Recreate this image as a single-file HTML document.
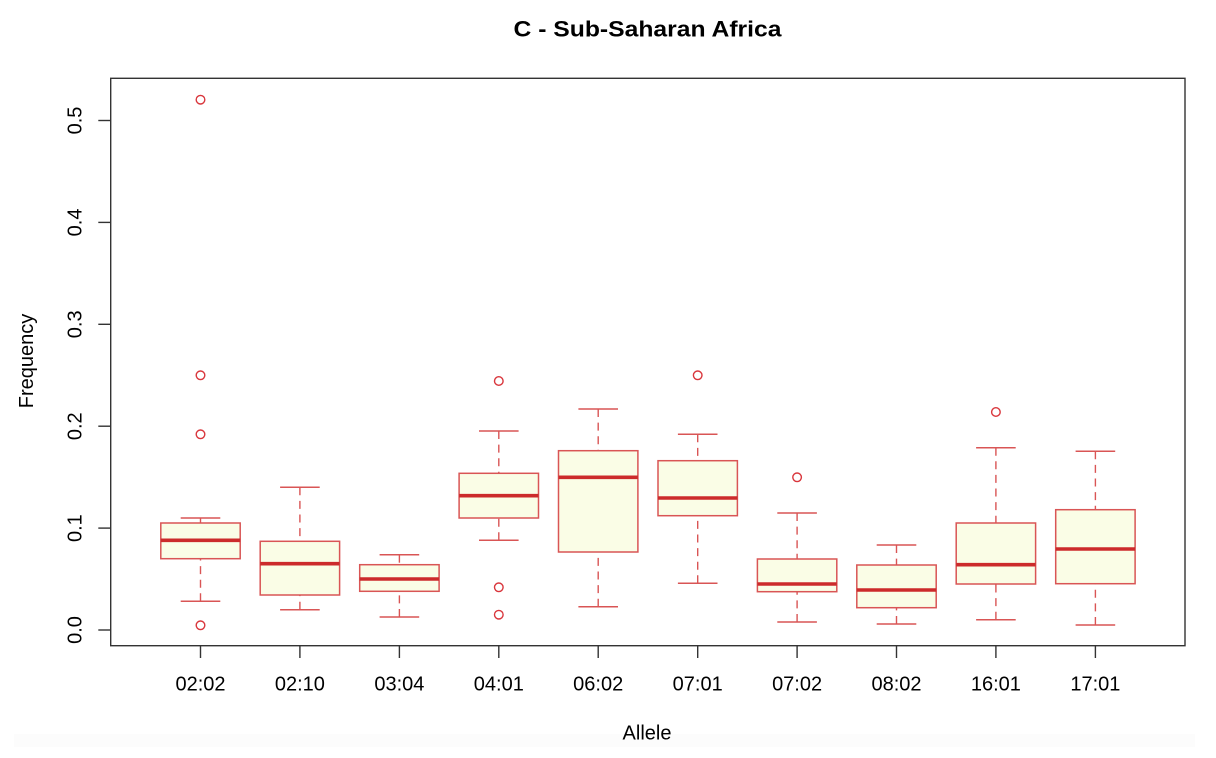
<!DOCTYPE html>
<html>
<head>
<meta charset="utf-8">
<style>
html,body{margin:0;padding:0;background:#ffffff;}
svg{display:block;}
text{font-family:"Liberation Sans",Arial,Helvetica,sans-serif;fill:#000;}
</style>
</head>
<body>
<svg width="1216" height="758" viewBox="0 0 1216 758" xmlns="http://www.w3.org/2000/svg">
<rect x="0" y="0" width="1216" height="758" fill="#ffffff"/>
<rect x="14" y="734" width="1181" height="13" fill="#fcfcfc"/>

<!-- title -->
<text x="647.5" y="36.5" text-anchor="middle" font-size="22" font-weight="bold" textLength="268" lengthAdjust="spacingAndGlyphs">C - Sub-Saharan Africa</text>

<!-- frame -->
<rect x="110.7" y="78.3" width="1074.3" height="567.4" fill="none" stroke="#333" stroke-width="1.4"/>

<!-- y axis ticks -->
<g stroke="#333" stroke-width="1.4">
<line x1="98.3" y1="630" x2="110.7" y2="630"/>
<line x1="98.3" y1="528.1" x2="110.7" y2="528.1"/>
<line x1="98.3" y1="426.2" x2="110.7" y2="426.2"/>
<line x1="98.3" y1="324.3" x2="110.7" y2="324.3"/>
<line x1="98.3" y1="222.4" x2="110.7" y2="222.4"/>
<line x1="98.3" y1="120.5" x2="110.7" y2="120.5"/>
</g>
<g font-size="20" text-anchor="middle">
<text x="81.7" y="630" transform="rotate(-90 81.7 630)">0.0</text>
<text x="81.7" y="528.1" transform="rotate(-90 81.7 528.1)">0.1</text>
<text x="81.7" y="426.2" transform="rotate(-90 81.7 426.2)">0.2</text>
<text x="81.7" y="324.3" transform="rotate(-90 81.7 324.3)">0.3</text>
<text x="81.7" y="222.4" transform="rotate(-90 81.7 222.4)">0.4</text>
<text x="81.7" y="120.5" transform="rotate(-90 81.7 120.5)">0.5</text>
</g>
<text x="33" y="361" font-size="20" text-anchor="middle" transform="rotate(-90 33 361)">Frequency</text>

<!-- x axis ticks -->
<g stroke="#333" stroke-width="1.4">
<line x1="200.5" y1="645.7" x2="200.5" y2="658"/>
<line x1="299.9" y1="645.7" x2="299.9" y2="658"/>
<line x1="399.4" y1="645.7" x2="399.4" y2="658"/>
<line x1="498.8" y1="645.7" x2="498.8" y2="658"/>
<line x1="598.2" y1="645.7" x2="598.2" y2="658"/>
<line x1="697.7" y1="645.7" x2="697.7" y2="658"/>
<line x1="797.1" y1="645.7" x2="797.1" y2="658"/>
<line x1="896.5" y1="645.7" x2="896.5" y2="658"/>
<line x1="995.9" y1="645.7" x2="995.9" y2="658"/>
<line x1="1095.4" y1="645.7" x2="1095.4" y2="658"/>
</g>
<g font-size="20" text-anchor="middle">
<text x="200.5" y="690.7">02:02</text>
<text x="299.9" y="690.7">02:10</text>
<text x="399.4" y="690.7">03:04</text>
<text x="498.8" y="690.7">04:01</text>
<text x="598.2" y="690.7">06:02</text>
<text x="697.7" y="690.7">07:01</text>
<text x="797.1" y="690.7">07:02</text>
<text x="896.5" y="690.7">08:02</text>
<text x="995.9" y="690.7">16:01</text>
<text x="1095.4" y="690.7">17:01</text>
</g>
<text x="647" y="739.3" font-size="20" text-anchor="middle">Allele</text>

<!-- whiskers (dashed) -->
<g stroke="#d95555" stroke-width="1.4" stroke-dasharray="8 5.6" fill="none">
<line x1="200.5" y1="518" x2="200.5" y2="523"/>
<line x1="200.5" y1="601.3" x2="200.5" y2="558.7"/>
<line x1="299.9" y1="487.3" x2="299.9" y2="541.3"/>
<line x1="299.9" y1="609.7" x2="299.9" y2="595"/>
<line x1="399.4" y1="554.7" x2="399.4" y2="564.7"/>
<line x1="399.4" y1="617" x2="399.4" y2="591.3"/>
<line x1="498.8" y1="431" x2="498.8" y2="473.3"/>
<line x1="498.8" y1="540.3" x2="498.8" y2="518"/>
<line x1="598.2" y1="409" x2="598.2" y2="450.7"/>
<line x1="598.2" y1="606.7" x2="598.2" y2="552"/>
<line x1="697.7" y1="434.3" x2="697.7" y2="460.7"/>
<line x1="697.7" y1="583.3" x2="697.7" y2="515.7"/>
<line x1="797.1" y1="513" x2="797.1" y2="559"/>
<line x1="797.1" y1="622" x2="797.1" y2="591.7"/>
<line x1="896.5" y1="545" x2="896.5" y2="565"/>
<line x1="896.5" y1="624" x2="896.5" y2="607.7"/>
<line x1="995.9" y1="447.7" x2="995.9" y2="523"/>
<line x1="995.9" y1="619.7" x2="995.9" y2="584"/>
<line x1="1095.4" y1="451.3" x2="1095.4" y2="509.7"/>
<line x1="1095.4" y1="625" x2="1095.4" y2="583.7"/>
</g>

<!-- caps -->
<g stroke="#d95555" stroke-width="1.5">
<line x1="180.7" y1="518" x2="220.3" y2="518"/>
<line x1="180.7" y1="601.3" x2="220.3" y2="601.3"/>
<line x1="280.1" y1="487.3" x2="319.7" y2="487.3"/>
<line x1="280.1" y1="609.7" x2="319.7" y2="609.7"/>
<line x1="379.6" y1="554.7" x2="419.2" y2="554.7"/>
<line x1="379.6" y1="617" x2="419.2" y2="617"/>
<line x1="479" y1="431" x2="518.6" y2="431"/>
<line x1="479" y1="540.3" x2="518.6" y2="540.3"/>
<line x1="578.4" y1="409" x2="618" y2="409"/>
<line x1="578.4" y1="606.7" x2="618" y2="606.7"/>
<line x1="677.9" y1="434.3" x2="717.5" y2="434.3"/>
<line x1="677.9" y1="583.3" x2="717.5" y2="583.3"/>
<line x1="777.3" y1="513" x2="816.9" y2="513"/>
<line x1="777.3" y1="622" x2="816.9" y2="622"/>
<line x1="876.7" y1="545" x2="916.3" y2="545"/>
<line x1="876.7" y1="624" x2="916.3" y2="624"/>
<line x1="976.1" y1="447.7" x2="1015.7" y2="447.7"/>
<line x1="976.1" y1="619.7" x2="1015.7" y2="619.7"/>
<line x1="1075.6" y1="451.3" x2="1115.2" y2="451.3"/>
<line x1="1075.6" y1="625" x2="1115.2" y2="625"/>
</g>

<!-- boxes -->
<g stroke="#d95555" stroke-width="1.5" fill="#fafde6">
<rect x="160.8" y="523" width="79.4" height="35.7"/>
<rect x="260.2" y="541.3" width="79.4" height="53.7"/>
<rect x="359.7" y="564.7" width="79.4" height="26.6"/>
<rect x="459.1" y="473.3" width="79.4" height="44.7"/>
<rect x="558.5" y="450.7" width="79.4" height="101.3"/>
<rect x="658" y="460.7" width="79.4" height="55"/>
<rect x="757.4" y="559" width="79.4" height="32.7"/>
<rect x="856.8" y="565" width="79.4" height="42.7"/>
<rect x="956.2" y="523" width="79.4" height="61"/>
<rect x="1055.7" y="509.7" width="79.4" height="74"/>
</g>

<!-- medians -->
<g stroke="#cc2b2b" stroke-width="3.6">
<line x1="160.8" y1="540.3" x2="240.2" y2="540.3"/>
<line x1="260.2" y1="563.7" x2="339.6" y2="563.7"/>
<line x1="359.7" y1="579" x2="439.1" y2="579"/>
<line x1="459.1" y1="495.7" x2="538.5" y2="495.7"/>
<line x1="558.5" y1="477.3" x2="637.9" y2="477.3"/>
<line x1="658" y1="498" x2="737.4" y2="498"/>
<line x1="757.4" y1="584" x2="836.8" y2="584"/>
<line x1="856.8" y1="590" x2="936.2" y2="590"/>
<line x1="956.2" y1="564.7" x2="1035.6" y2="564.7"/>
<line x1="1055.7" y1="549" x2="1135.1" y2="549"/>
</g>

<!-- outliers -->
<g stroke="#d9363c" stroke-width="1.4" fill="none">
<circle cx="200.5" cy="99.7" r="4.3"/>
<circle cx="200.5" cy="375.3" r="4.3"/>
<circle cx="200.5" cy="434.3" r="4.3"/>
<circle cx="200.5" cy="625.3" r="4.3"/>
<circle cx="498.8" cy="381" r="4.3"/>
<circle cx="498.8" cy="587.3" r="4.3"/>
<circle cx="498.8" cy="614.7" r="4.3"/>
<circle cx="697.7" cy="375.3" r="4.3"/>
<circle cx="797.1" cy="477.3" r="4.3"/>
<circle cx="995.9" cy="412" r="4.3"/>
</g>
</svg>
</body>
</html>
